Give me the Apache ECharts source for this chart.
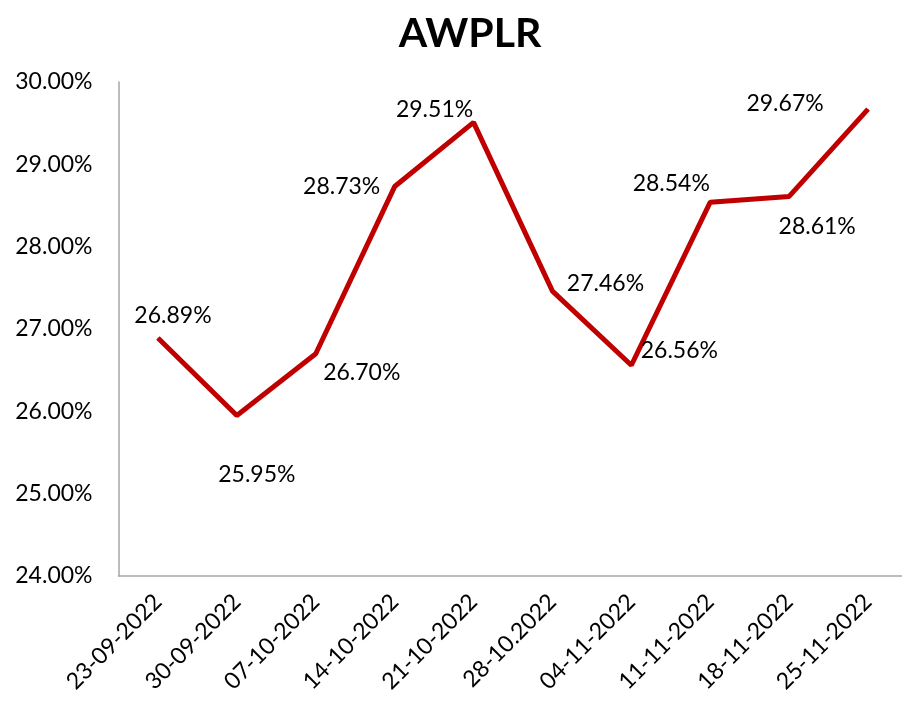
<!DOCTYPE html>
<html><head><meta charset="utf-8">
<script src="https://cdn.jsdelivr.net/npm/echarts@6/dist/echarts.min.js"></script>
<style>html,body{margin:0;padding:0;background:#fff}#c{width:902px;height:701px}</style>
</head><body><div id="c"></div>
<script>
const categories = ['23-09-2022','30-09-2022','07-10-2022','14-10-2022','21-10-2022','28-10.2022','04-11-2022','11-11-2022','18-11-2022','25-11-2022'];
const values = [26.89, 25.95, 26.70, 28.73, 29.51, 27.46, 26.56, 28.54, 28.61, 29.67];
const yTicks = [24, 25, 26, 27, 28, 29, 30];
// label offsets (styling) relative to each point
const labelOffsets = [[15,-22],[20,59],[46,19],[-53,0],[-39,-13],[53,-8],[48,-15],[-39,-19],[28,30],[-83,-6]];

const chart = echarts.init(document.getElementById('c'));
const FONT = 'Lato';
chart.setOption({
  backgroundColor: '#fff',
  animation: false,
  title: {
    text: 'AWPLR', left: 465, top: 8, textAlign: 'center',
    textStyle: {fontFamily: FONT, fontWeight: 'bold', fontSize: 41, color: '#000'}
  },
  grid: {left: 118.5, top: 82, width: 789, height: 494, containLabel: false, outerBoundsMode: 'none'},
  xAxis: {
    type: 'category', data: categories, boundaryGap: true,
    axisLine: {lineStyle: {color: '#a6a6a6', width: 1.5}},
    axisTick: {show: false},
    axisLabel: {rotate: 45, margin: 22, fontFamily: FONT, fontSize: 23, color: '#000', interval: 0}
  },
  yAxis: {
    type: 'value', min: yTicks[0], max: yTicks[yTicks.length-1], interval: 1,
    axisLine: {show: true, lineStyle: {color: '#a6a6a6', width: 1.5}},
    axisTick: {show: false},
    splitLine: {show: false},
    axisLabel: {margin: 26, fontFamily: FONT, fontSize: 23, color: '#000',
      formatter: v => v.toFixed(2) + '%'}
  },
  series: [{
    type: 'line',
    data: values.map((v, i) => ({
      value: v,
      label: {offset: labelOffsets[i]}
    })),
    symbol: 'circle', symbolSize: 1,
    itemStyle: {color: '#c00000'},
    lineStyle: {color: '#c00000', width: 5},
    label: {
      show: true, position: 'inside', align: 'center', verticalAlign: 'middle',
      fontFamily: FONT, fontSize: 23, color: '#000',
      formatter: p => p.value.toFixed(2) + '%'
    }
  }]
});
</script>
</body></html>
